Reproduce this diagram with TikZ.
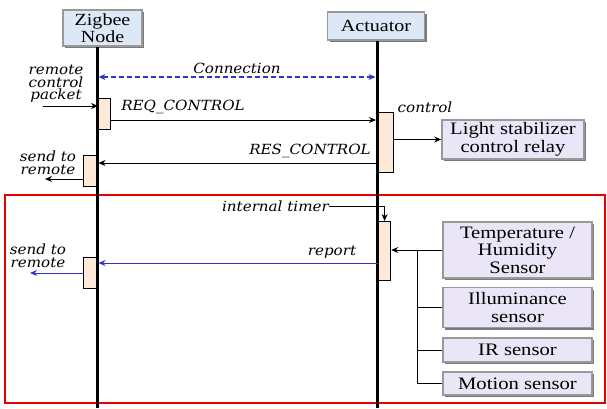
\documentclass[tikz,border=0pt]{standalone}
\usepackage{fontspec}
\setmainfont{Liberation Serif}
\newfontfamily\boxfont{Liberation Serif}[FakeStretch=1.18]
\newfontfamily\lblfont{DejaVu Serif}[FakeStretch=1.08]
\usetikzlibrary{arrows.meta,shadows}
\definecolor{boxblue}{RGB}{220,232,246}
\definecolor{boxlav}{RGB}{234,229,247}
\definecolor{actpeach}{RGB}{253,233,216}
\definecolor{msgblue}{RGB}{51,51,204}
\definecolor{framered}{RGB}{235,0,0}
\tikzset{
  bevel/.style={drop shadow={shadow xshift=2pt, shadow yshift=-2pt, fill=black!65, opacity=.8}},
  lifebox/.style={draw=black!40, line width=1.3pt, fill=boxblue, bevel, align=center, inner sep=0pt,
    font=\boxfont\fontsize{17}{15}\selectfont},
  devbox/.style={draw=black!40, line width=1.6pt, fill=boxlav, bevel, align=center, inner sep=0pt,
    font=\boxfont\fontsize{17.5}{17.5}\selectfont},
  actbox/.style={draw=black, line width=1.2pt, fill=actpeach, inner sep=0pt},
  life/.style={line width=3pt},
  msg/.style={line width=1pt, -{Stealth[length=7pt,width=6pt]}},
  lbl/.style={font=\lblfont\itshape\fontsize{14}{12.5}\selectfont, inner sep=0pt, align=center},
}
\begin{document}
\begin{tikzpicture}[x=1pt,y=-1pt]
\useasboundingbox (0,0) rectangle (607,408);
% frame
\draw[framered, line width=2pt] (5,195) rectangle (605,403);
% participant boxes
\node[lifebox, minimum width=79pt, minimum height=36pt] (zig) at (102.5,28) {Zigbee\\Node};
\node[lifebox, minimum width=97pt, minimum height=28pt] (act) at (376,26) {Actuator};
% lifelines
\coordinate (zigEnd) at (97,408);
\coordinate (actEnd) at (377,408);
\draw[life] (zig.south -| zigEnd) -- (zigEnd);
\draw[life] (act.south -| actEnd) -- (actEnd);
% activation boxes
\node[actbox, minimum width=12pt, minimum height=31pt, anchor=north west] (a1) at (98,98) {};
\node[actbox, minimum width=13pt, minimum height=31pt, anchor=north west] (a2) at (83,155) {};
\node[actbox, minimum width=15pt, minimum height=60pt, anchor=north west] (a3) at (378,112) {};
\node[actbox, minimum width=12pt, minimum height=59pt, anchor=north west] (a4) at (378,221) {};
\node[actbox, minimum width=13pt, minimum height=31pt, anchor=north west] (a5) at (83,257) {};
% devices
\node[devbox, minimum width=142pt, minimum height=39pt] (light) at (513,139.5) {Light stabilizer\\control relay};
\node[devbox, minimum width=149pt, minimum height=56pt] (temp) at (517.5,250) {Temperature /\\Humidity\\Sensor};
\node[devbox, minimum width=149pt, minimum height=40pt] (illum) at (517.5,307.5) {Illuminance\\sensor};
\node[devbox, minimum width=149pt, minimum height=24pt] (ir) at (517.5,350) {IR sensor};
\node[devbox, minimum width=149pt, minimum height=23pt] (motion) at (517.5,383.5) {Motion sensor};
% connection
\coordinate (connL) at (98.5,77);
\coordinate (connR) at (375.5,77);
\draw[msgblue, line width=1.3pt, dash pattern=on 5pt off 3pt, {Stealth[length=7pt,width=6pt]}-{Stealth[length=7pt,width=6pt]}] (connL) -- (connR);
\node[lbl] (connlbl) at (237,68) {Connection};
% remote control packet
\node[lbl] (rcp) at (56,84) {remote\\control\\packet};
\coordinate (rcpS) at (43,106);
\draw[msg] (rcpS) -- (a1.west |- rcpS);
% REQ_CONTROL
\coordinate (reqE) at (376,120);
\draw[msg] (a1.east |- reqE) -- (reqE);
\node[lbl] (reqlbl) at (183,107) {REQ\_CONTROL};
% control
\node[lbl] (ctrllbl) at (425,107) {control};
\draw[msg] (a3.east |- light.west) -- (light.west);
% RES_CONTROL
\coordinate (resE) at (98.5,163);
\draw[msg] (a3.west |- resE) -- (resE);
\node[lbl] (reslbl) at (310,151) {RES\_CONTROL};
% send to remote 1
\node[lbl] (sr1lbl) at (48,163) {send to\\remote};
\coordinate (sr1) at (45,179);
\draw[msg] (a2.west |- sr1) -- (sr1);
% internal timer
\node[lbl, anchor=east] (timer) at (329,206) {internal timer};
\draw[msg] (timer.east) -| (a4.north);
% report
\coordinate (repE) at (98.5,263);
\draw[msg, msgblue] (a4.west |- repE) -- (repE);
\node[lbl] (replbl) at (332,252) {report};
% send to remote 2
\node[lbl] (sr2lbl) at (38,256) {send to\\remote};
\coordinate (sr2) at (30,273);
\draw[msg, msgblue] (a5.west |- sr2) -- (sr2);
% sensors
\coordinate (bus) at (417,0);
\draw[msg] (temp.west) -- (a4.east |- temp.west);
\draw[line width=1pt] (bus |- temp.west) -- (bus |- motion.west) -- (motion.west);
\draw[line width=1pt] (bus |- illum.west) -- (illum.west);
\draw[line width=1pt] (bus |- ir.west) -- (ir.west);
\end{tikzpicture}
\end{document}
